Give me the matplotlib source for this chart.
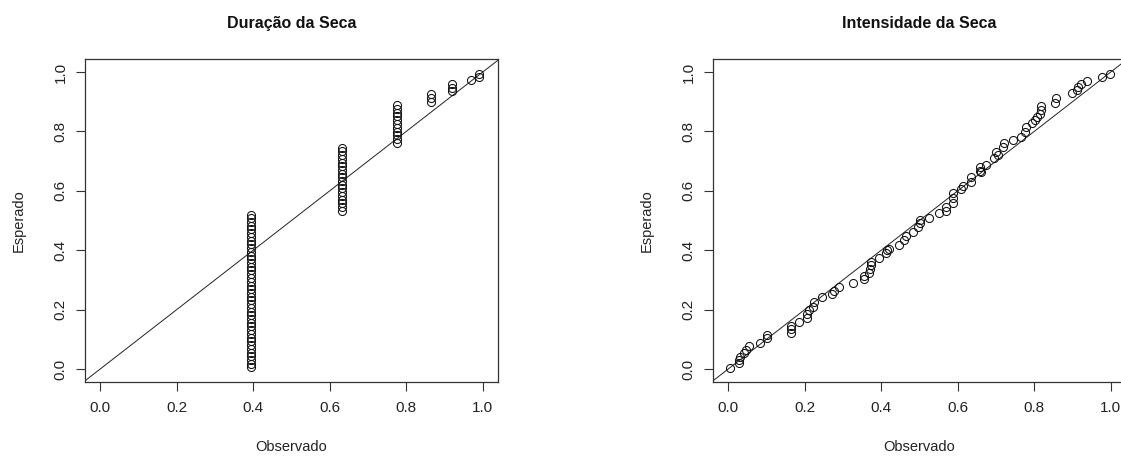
"""Duração e Intensidade da Seca - gráficos de probabilidade (observado vs esperado)."""
import matplotlib
matplotlib.use("Agg")
import matplotlib.pyplot as plt

plt.rcParams["font.family"] = ["Liberation Sans", "DejaVu Sans"]

# Duração: valores observados em degraus, com as probabilidades esperadas em cada degrau
DUR_OBS_LEVELS = [0.395, 0.633, 0.777, 0.866, 0.920, 0.970, 0.991]
DUR_ESP = [
    [0.005, 0.017, 0.030, 0.042, 0.055, 0.068, 0.080, 0.093, 0.105, 0.118,
     0.130, 0.143, 0.156, 0.168, 0.181, 0.193, 0.206, 0.218, 0.231, 0.244,
     0.256, 0.269, 0.281, 0.294, 0.306, 0.319, 0.332, 0.344, 0.357, 0.369,
     0.382, 0.394, 0.407, 0.420, 0.432, 0.445, 0.457, 0.470, 0.482, 0.495,
     0.508, 0.520],
    [0.533, 0.545, 0.558, 0.570, 0.583, 0.595, 0.608, 0.620, 0.633, 0.645,
     0.658, 0.670, 0.683, 0.695, 0.708, 0.720, 0.733, 0.745],
    [0.761, 0.774, 0.787, 0.799, 0.812, 0.825, 0.838, 0.851, 0.863, 0.876,
     0.889],
    [0.899, 0.912, 0.925],
    [0.936, 0.948, 0.961],
    [0.972],
    [0.984, 0.995],
]

# Intensidade
INT_OBS = [0.004, 0.027, 0.029, 0.030, 0.040, 0.047, 0.053, 0.082, 0.101, 0.101,
           0.163, 0.163, 0.165, 0.185, 0.205, 0.206, 0.210, 0.222, 0.224, 0.246,
           0.270, 0.277, 0.290, 0.325, 0.354, 0.355, 0.368, 0.370, 0.372, 0.373,
           0.395, 0.412, 0.414, 0.421, 0.447, 0.460, 0.464, 0.482, 0.495, 0.500,
           0.500, 0.526, 0.552, 0.570, 0.570, 0.587, 0.587, 0.587, 0.609, 0.613,
           0.635, 0.635, 0.657, 0.659, 0.660, 0.675, 0.696, 0.700, 0.705, 0.718,
           0.722, 0.745, 0.766, 0.775, 0.779, 0.793, 0.801, 0.806, 0.814, 0.818,
           0.818, 0.854, 0.858, 0.898, 0.911, 0.915, 0.922, 0.937, 0.976, 0.998]
INT_ESP = [0.004, 0.019, 0.030, 0.041, 0.053, 0.064, 0.077, 0.089, 0.103, 0.114,
           0.120, 0.133, 0.145, 0.159, 0.173, 0.185, 0.197, 0.210, 0.226, 0.241,
           0.253, 0.264, 0.277, 0.288, 0.302, 0.313, 0.324, 0.336, 0.350, 0.361,
           0.373, 0.390, 0.400, 0.403, 0.417, 0.434, 0.447, 0.461, 0.477, 0.493,
           0.502, 0.510, 0.524, 0.532, 0.546, 0.558, 0.575, 0.591, 0.605, 0.617,
           0.630, 0.647, 0.668, 0.679, 0.665, 0.687, 0.709, 0.732, 0.720, 0.749,
           0.760, 0.771, 0.782, 0.799, 0.814, 0.827, 0.838, 0.849, 0.858, 0.871,
           0.886, 0.897, 0.911, 0.928, 0.939, 0.950, 0.959, 0.971, 0.982, 0.992]

TICKS = [0.0, 0.2, 0.4, 0.6, 0.8, 1.0]
TICK_LABELS = ["0.0", "0.2", "0.4", "0.6", "0.8", "1.0"]

W, H = 1121, 457
fig = plt.figure(figsize=(W / 100, H / 100), dpi=100, facecolor="white")


def px_axes(x0, y_top, w, h):
    return fig.add_axes([x0 / W, 1 - (y_top + h) / H, w / W, h / H])


ax1 = px_axes(85, 59, 413, 323)
ax2 = px_axes(713, 59, 413, 323)


def style(ax, title):
    ax.set_xlim(-0.04, 1.04)
    ax.set_ylim(-0.044, 1.044)
    ax.axline((0, 0), slope=1, color="#222222", linewidth=0.7, zorder=2)
    ax.set_xticks(TICKS)
    ax.set_xticklabels(TICK_LABELS)
    ax.set_yticks(TICKS)
    ax.set_yticklabels(TICK_LABELS, rotation=90, va="center")
    ax.tick_params(direction="out", length=6.5, width=0.8, colors="#333333",
                   labelsize=11, labelcolor="#222222")
    ax.tick_params(axis="x", pad=7)
    ax.tick_params(axis="y", pad=6)
    for sp in ax.spines.values():
        sp.set_edgecolor("#333333")
        sp.set_linewidth(0.9)
    ax.set_title(title, fontsize=11.5, fontweight="bold", pad=22, color="#111111")
    ax.set_xlabel("Observado", fontsize=10.5, labelpad=18, color="#222222")
    ax.set_ylabel("Esperado", fontsize=10.5, labelpad=20, color="#222222")


marker_kw = dict(linestyle="none", marker="o", markersize=5.8,
                 markerfacecolor="none", markeredgecolor="#111111",
                 markeredgewidth=0.75, zorder=3)

for level, esp in zip(DUR_OBS_LEVELS, DUR_ESP):
    ax1.plot([level] * len(esp), esp, **marker_kw)
style(ax1, "Duração da Seca")

ax2.plot(INT_OBS, INT_ESP, **marker_kw)
style(ax2, "Intensidade da Seca")

fig.savefig("out.png", dpi=100, facecolor="white")
